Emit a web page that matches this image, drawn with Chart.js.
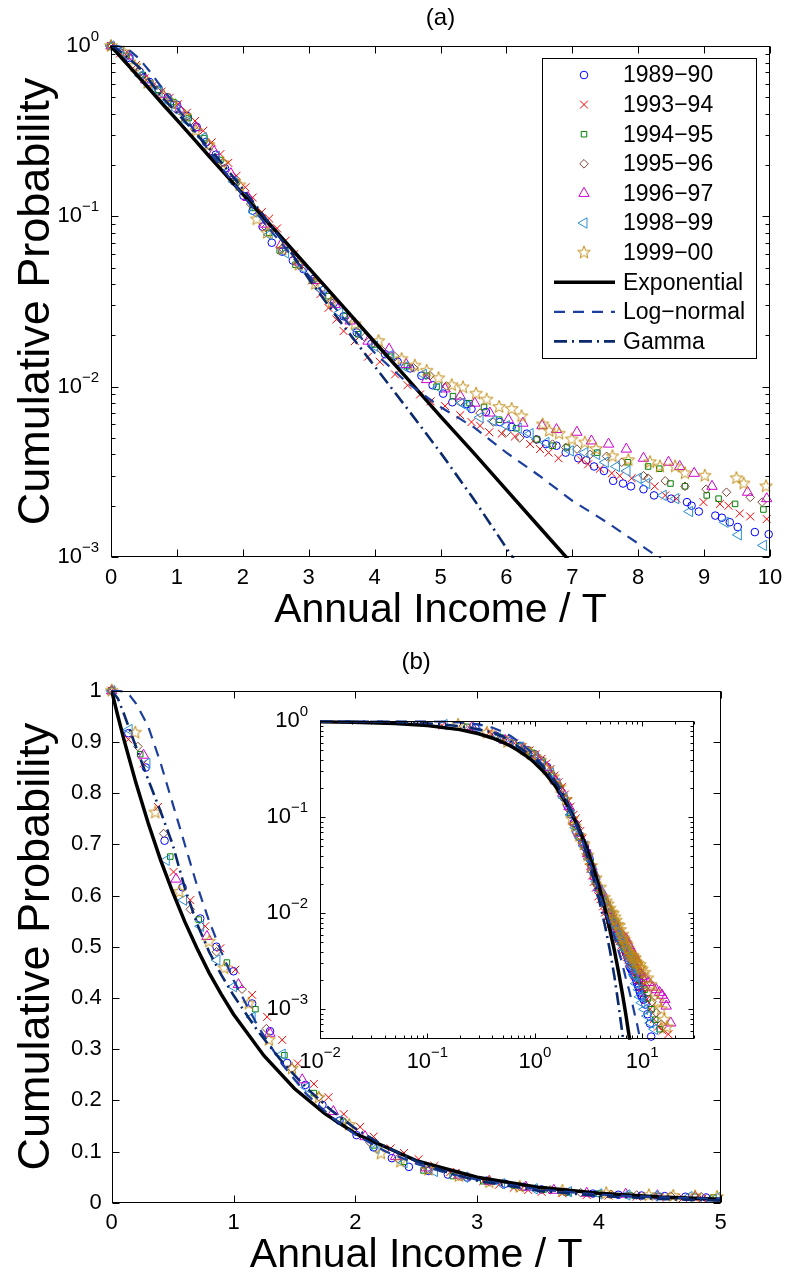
<!DOCTYPE html>
<html lang="en">
<head>
<meta charset="UTF-8">
<title>Annual income – cumulative probability</title>
<script src="https://cdn.jsdelivr.net/npm/chart.js@4.4.1/dist/chart.umd.min.js"></script>
<style>
  html, body { margin: 0; padding: 0; background: #fff; }
  #page { position: relative; width: 786px; height: 1279px; overflow: hidden; }
  #page canvas { position: absolute; }
</style>
</head>
<body>
<div id="page">
  <canvas id="panelA" width="786" height="640" style="left:0;top:0;"></canvas>
  <canvas id="panelB" width="786" height="639" style="left:0;top:640px;"></canvas>
  <canvas id="panelInset" width="470" height="380" style="left:250px;top:700px;"></canvas>
</div>
<script>
// [annual income / T, cumulative probability] for each survey year
const yr8990 = [[0,1],[0.137,0.917],[0.28,0.85],[0.434,0.707],[0.582,0.616],[0.727,0.555],[0.86,0.5],[1.0,0.452],[1.153,0.389],[1.3,0.335],[1.44,0.273],[1.59,0.23],[1.73,0.191],[1.87,0.16],[2.01,0.132],[2.15,0.108],[2.3,0.087],[2.44,0.07],[2.6,0.062],[2.76,0.055],[2.92,0.049],[3.08,0.043],[3.23,0.037],[3.38,0.031],[3.53,0.0259],[3.73,0.0208],[3.95,0.0178],[4.16,0.0155],[4.35,0.014],[4.54,0.0128],[4.71,0.0116],[4.88,0.0102],[5.04,0.0091],[5.18,0.0081],[5.4,0.0079],[5.47,0.0074],[5.69,0.0071],[5.9,0.0062],[6.08,0.0058],[6.31,0.0053],[6.46,0.0049],[6.6,0.0046],[6.76,0.0045],[6.9,0.0041],[7.09,0.0038],[7.21,0.0037],[7.33,0.0034],[7.48,0.0032],[7.62,0.0028],[7.77,0.0027],[7.89,0.0026],[8.08,0.0025],[8.24,0.0023],[8.5,0.0022],[8.74,0.0021],[8.81,0.002],[8.92,0.00185],[9.17,0.00175],[9.27,0.0017],[9.39,0.0016],[9.51,0.0015],[9.77,0.0014],[9.98,0.00136],[10.3,0.00126],[10.7,0.00112],[11.2,0.00089],[11.8,0.00071],[12.1,0.00052]];
const yr9394 = [[0,1],[0.137,0.905],[0.261,0.858],[0.38,0.773],[0.508,0.646],[0.645,0.591],[0.768,0.54],[0.892,0.497],[1.015,0.455],[1.153,0.406],[1.276,0.363],[1.4,0.318],[1.528,0.272],[1.66,0.232],[1.78,0.206],[1.905,0.173],[2.04,0.148],[2.15,0.129],[2.29,0.106],[2.4,0.097],[2.52,0.085],[2.65,0.072],[2.78,0.06],[2.9,0.051],[3.05,0.042],[3.18,0.035],[3.3,0.029],[3.42,0.0248],[3.53,0.0212],[3.7,0.0185],[3.9,0.015],[4.08,0.014],[4.31,0.0118],[4.5,0.0102],[4.69,0.009],[4.85,0.0082],[5.07,0.0077],[5.3,0.0068],[5.47,0.0062],[5.6,0.0059],[5.74,0.0054],[5.93,0.0053],[6.13,0.0051],[6.36,0.0046],[6.51,0.0043],[6.64,0.0041],[6.79,0.0038],[7.14,0.0037],[7.24,0.0035],[7.42,0.0033],[7.6,0.0031],[7.72,0.003],[7.9,0.0029],[8.25,0.0026],[8.41,0.0023],[8.58,0.0022],[8.99,0.0021],[9.24,0.00205],[9.37,0.002],[9.54,0.0018],[9.7,0.00173],[9.95,0.00167],[10.4,0.00148],[11,0.00126],[11.8,0.001],[12.8,0.00079],[14,0.00066],[15.5,0.0006],[17.5,0.00055]];
const yr9495 = [[0,1],[0.234,0.876],[0.481,0.676],[0.714,0.553],[0.946,0.469],[1.18,0.378],[1.418,0.288],[1.66,0.214],[1.9,0.158],[2.15,0.112],[2.4,0.08],[2.56,0.063],[2.8,0.052],[3.05,0.042],[3.3,0.034],[3.55,0.026],[3.75,0.0203],[4.0,0.0177],[4.25,0.015],[4.49,0.0132],[4.79,0.0116],[4.94,0.01],[5.19,0.0088],[5.44,0.008],[5.66,0.0076],[5.89,0.0064],[6.15,0.0057],[6.46,0.0049],[6.7,0.0045],[6.92,0.0044],[7.38,0.0041],[7.84,0.0036],[8.15,0.0034],[8.32,0.0033],[8.49,0.0027],[8.71,0.0026],[9.04,0.0023],[9.22,0.0022],[9.47,0.00205],[9.9,0.0019],[10.5,0.0016],[11.3,0.0013],[12.2,0.001],[13.2,0.00078],[14.5,0.00062]];
const yr9596 = [[0,1],[0.215,0.891],[0.426,0.721],[0.645,0.573],[0.86,0.49],[1.07,0.417],[1.27,0.34],[1.48,0.262],[1.7,0.207],[1.905,0.158],[2.12,0.118],[2.35,0.086],[2.6,0.065],[2.85,0.052],[3.1,0.041],[3.35,0.032],[3.6,0.025],[3.85,0.0195],[4.1,0.0165],[4.31,0.015],[4.59,0.0129],[4.84,0.0116],[5.09,0.0101],[5.3,0.0082],[5.6,0.007],[5.8,0.0062],[6.0,0.0054],[6.2,0.005],[6.45,0.0049],[6.7,0.0046],[6.9,0.0044],[7.07,0.0043],[7.27,0.004],[7.52,0.0039],[7.75,0.0036],[8.08,0.003],[8.15,0.0029],[8.41,0.0028],[8.71,0.0026],[9.03,0.0025],[9.34,0.0024],[9.7,0.00224],[9.88,0.0021],[10.5,0.0018],[11.3,0.0015],[12.3,0.0012],[13.5,0.00092],[15,0.0007]];
const yr9697 = [[0,1],[0.261,0.874],[0.528,0.632],[0.782,0.52],[1.04,0.426],[1.298,0.331],[1.564,0.24],[1.82,0.178],[2.08,0.129],[2.33,0.09],[2.58,0.068],[2.85,0.054],[3.1,0.042],[3.4,0.0304],[3.63,0.0243],[3.9,0.0185],[4.22,0.0166],[4.48,0.0135],[4.79,0.011],[5.07,0.0097],[5.3,0.0088],[5.52,0.008],[5.75,0.007],[6.03,0.0064],[6.25,0.0061],[6.54,0.0059],[6.76,0.0056],[7.07,0.0054],[7.29,0.0048],[7.55,0.0046],[7.82,0.0043],[8.08,0.0038],[8.46,0.0036],[8.63,0.0034],[8.85,0.0031],[9.12,0.0026],[9.66,0.0024],[9.95,0.0022],[10.6,0.0021],[11.5,0.0019],[12.5,0.0017],[13.5,0.0016],[14.5,0.0015],[15.3,0.0014],[16.2,0.00127],[16.7,0.00108],[18.4,0.00072]];
const yr9899 = [[0,1],[0.143,0.924],[0.289,0.858],[0.448,0.669],[0.59,0.591],[0.73,0.54],[0.864,0.474],[1.0,0.422],[1.153,0.362],[1.4,0.29],[1.6,0.225],[1.865,0.16],[2.17,0.106],[2.4,0.078],[2.65,0.061],[2.9,0.05],[3.2,0.037],[3.47,0.0272],[3.75,0.0215],[4.0,0.0173],[4.23,0.0152],[4.46,0.0131],[4.74,0.0118],[4.97,0.0099],[5.32,0.008],[5.4,0.0077],[5.6,0.0066],[5.8,0.0063],[6.0,0.0059],[6.18,0.0057],[6.36,0.0053],[6.6,0.0047],[6.97,0.0042],[7.19,0.0041],[7.37,0.004],[7.5,0.0036],[7.67,0.0034],[7.83,0.0032],[8.0,0.0029],[8.13,0.0027],[8.38,0.0023],[8.57,0.0022],[8.78,0.00185],[9.32,0.0016],[9.52,0.00135],[9.9,0.00117],[10.5,0.001],[11.2,0.00085],[12,0.00072],[13,0.00062]];
const yr9900 = [[0,1],[0.193,0.918],[0.358,0.762],[0.555,0.607],[0.8,0.51],[0.924,0.458],[1.125,0.389],[1.29,0.318],[1.48,0.262],[1.7,0.205],[1.95,0.152],[2.21,0.096],[2.37,0.08],[2.6,0.064],[2.85,0.052],[3.1,0.04],[3.35,0.0311],[3.7,0.0232],[4.06,0.0185],[4.41,0.0145],[4.61,0.0133],[4.79,0.0124],[4.97,0.0112],[5.17,0.0102],[5.34,0.0099],[5.54,0.0091],[5.7,0.0084],[5.89,0.0076],[6.08,0.0074],[6.23,0.0067],[6.55,0.006],[6.65,0.0055],[6.8,0.0053],[6.99,0.0049],[7.19,0.0047],[7.36,0.0043],[7.61,0.0039],[7.85,0.0037],[8.18,0.0036],[8.33,0.0034],[8.56,0.0034],[8.71,0.0031],[9.01,0.003],[9.49,0.0029],[9.6,0.0027],[9.94,0.0026],[10.5,0.0024],[11.2,0.0021],[12,0.0018],[13,0.0015],[14,0.0012],[15,0.001],[16,0.00078],[17,0.00065]];

// fitted curves
const expFit = [[0,1],[0.01,0.99],[0.02,0.98],[0.05,0.951],[0.1,0.905],[0.2,0.819],[0.3,0.741],[0.4,0.67],[0.5,0.607],[0.6,0.549],[0.7,0.497],[0.8,0.449],[0.9,0.407],[1,0.368],[1.25,0.287],[1.5,0.223],[1.75,0.174],[2,0.135],[2.5,0.082],[3,0.0498],[3.5,0.0302],[4,0.0183],[4.5,0.0111],[5,0.0067],[5.5,0.0041],[6,0.00248],[6.5,0.0015],[7,0.00091],[7.5,0.00055],[8,0.00034]];
const lognormFit = [[0,1],[0.01,1],[0.05,1],[0.1,0.998],[0.15,0.99],[0.2,0.975],[0.3,0.93],[0.4,0.86],[0.5,0.78],[0.6,0.7],[0.7,0.62],[0.8,0.55],[0.9,0.49],[1,0.435],[1.2,0.345],[1.4,0.27],[1.6,0.212],[1.8,0.168],[2,0.133],[2.25,0.1],[2.5,0.076],[2.75,0.058],[3,0.045],[3.5,0.026],[4,0.0158],[4.5,0.0105],[5,0.0076],[5.5,0.0058],[6,0.0041],[6.5,0.003],[7,0.00214],[7.5,0.00162],[8,0.0012],[8.5,0.00089],[9,0.00068],[9.5,0.0005],[10,0.00038]];
const gammaFit = [[0,1],[0.01,0.997],[0.02,0.994],[0.05,0.985],[0.1,0.955],[0.2,0.89],[0.3,0.826],[0.4,0.765],[0.5,0.7],[0.6,0.615],[0.7,0.545],[0.8,0.49],[0.9,0.445],[1,0.405],[1.2,0.335],[1.4,0.275],[1.6,0.224],[1.8,0.181],[2,0.145],[2.25,0.109],[2.5,0.081],[2.75,0.06],[3,0.043],[3.5,0.0235],[4,0.0132],[4.5,0.0074],[5,0.0041],[5.5,0.0022],[6,0.00113],[6.5,0.00058],[7,0.0003]];

const seasons = ['1989\u221290', '1993\u221294', '1994\u221295', '1995\u221296', '1996\u221297', '1998\u221299', '1999\u221200'];
const fitNames = ['Exponential', 'Log\u2212normal', 'Gamma'];

// tick values and labels
const aIncomeTicks = [0, 1, 2, 3, 4, 5, 6, 7, 8, 9, 10];
const aProbTicks = [0.001, 0.01, 0.1, 1];
const aProbExps = ['\u22123', '\u22122', '\u22121', '0'];
const bIncomeTicks = [0, 1, 2, 3, 4, 5];
const bProbTicks = [0, 0.1, 0.2, 0.3, 0.4, 0.5, 0.6, 0.7, 0.8, 0.9, 1];
const bProbLabels = ['0', '0.1', '0.2', '0.3', '0.4', '0.5', '0.6', '0.7', '0.8', '0.9', '1'];
const insetIncomeTicks = [0.01, 0.1, 1, 10];
const insetIncomeExps = ['\u22122', '\u22121', '0', '1'];
const insetProbTicks = [0.001, 0.01, 0.1, 1];
const insetProbExps = ['\u22123', '\u22122', '\u22121', '0'];

const FONT = '"Liberation Sans", Arial, Helvetica, sans-serif';

function pentagram(color, r) {
  const c = document.createElement('canvas');
  const s = Math.ceil(2 * r + 4);
  c.width = c.height = s;
  const g = c.getContext('2d');
  g.strokeStyle = color;
  g.lineWidth = 1;
  g.beginPath();
  for (let i = 0; i < 10; i++) {
    const rr = i % 2 ? r * 0.42 : r;
    const t = -Math.PI / 2 + i * Math.PI / 5;
    g.lineTo(s / 2 + rr * Math.cos(t), s / 2 + rr * Math.sin(t));
  }
  g.closePath();
  g.stroke();
  return c;
}

const yearSeries = [yr8990, yr9394, yr9495, yr9596, yr9697, yr9899, yr9900];
const markers = [
  { style: 'circle', color: '#0000ff', radius: 3.8, rotation: 0 },
  { style: 'crossRot', color: '#ff0000', radius: 5.6, rotation: 0 },
  { style: 'rect', color: '#008000', radius: 3.9, rotation: 0 },
  { style: 'rectRot', color: '#7a4536', radius: 4.3, rotation: 0 },
  { style: 'triangle', color: '#cc00cc', radius: 6, rotation: 0 },
  { style: 'triangle', color: '#2a8fd6', radius: 6, rotation: -90 },
  { style: pentagram('#c08a10', 6.6), color: '#c08a10', radius: 6.6, rotation: 0 }
];
const fits = [
  { points: expFit, color: '#000000', width: 3.5, dash: [] },
  { points: lognormFit, color: '#1c3f9e', width: 2.2, dash: [11, 8] },
  { points: gammaFit, color: '#0b2a6e', width: 2.6, dash: [13, 5, 2, 5] }
];

function buildDatasets(xr, yr) {
  const inside = ([x, p]) => x >= xr[0] && x <= xr[1] && p >= yr[0] && p <= yr[1];
  const sets = yearSeries.map((pts, i) => ({
    label: seasons[i],
    data: pts.filter(inside).map(([x, p]) => ({ x, y: p })),
    showLine: false,
    pointStyle: markers[i].style,
    pointRadius: markers[i].radius,
    pointRotation: markers[i].rotation,
    pointBorderColor: markers[i].color,
    pointBackgroundColor: 'rgba(0,0,0,0)',
    pointBorderWidth: 1,
    borderColor: markers[i].color,
    order: 10 - i,
    clip: false
  }));
  fits.forEach((f, j) => sets.push({
    label: fitNames[j],
    data: f.points.filter(([x]) => x >= xr[0] && x <= xr[1]).map(([x, p]) => ({ x, y: p })),
    showLine: true,
    pointRadius: 0,
    borderColor: f.color,
    borderWidth: f.width,
    borderDash: f.dash,
    order: 2 - j,
    clip: 1
  }));
  return sets;
}

function logMinor(lo, hi) {
  const out = [];
  for (let d = Math.floor(Math.log10(lo)); d <= Math.ceil(Math.log10(hi)); d++) {
    for (let k = 2; k <= 9; k++) {
      const v = k * Math.pow(10, d);
      if (v > lo && v < hi) out.push(v);
    }
  }
  return out;
}

function powerLabel(ctx, exp, x, y, align, size, supSize) {
  ctx.font = size + 'px ' + FONT;
  const wBase = ctx.measureText('10').width;
  ctx.font = supSize + 'px ' + FONT;
  const wExp = ctx.measureText(exp).width;
  const left = align === 'right' ? x - wBase - wExp : x - (wBase + wExp) / 2;
  ctx.textAlign = 'left';
  ctx.textBaseline = 'middle';
  ctx.font = size + 'px ' + FONT;
  ctx.fillText('10', left, y);
  ctx.font = supSize + 'px ' + FONT;
  ctx.fillText(exp, left + wBase, y - size * 0.42);
}

// box, inward ticks, tick labels and axis titles
function makeDecor(cfg) {
  return {
    id: 'decor',
    beforeDatasetsDraw(chart) {
      if (!cfg.background) return;
      const { ctx, chartArea: a } = chart;
      ctx.save();
      ctx.fillStyle = cfg.background;
      ctx.fillRect(a.left, a.top, a.width, a.height);
      ctx.restore();
    },
    afterDatasetsDraw(chart) {
      const { ctx, chartArea: a, scales } = chart;
      const xs = scales.x, ys = scales.y;
      const L = Math.round(a.left) + 0.5, R = Math.round(a.right) - 0.5;
      const T = Math.round(a.top) + 0.5, B = Math.round(a.bottom) - 0.5;
      ctx.save();
      ctx.strokeStyle = '#000';
      ctx.lineWidth = 1;
      ctx.beginPath();
      const xTick = (v, len) => {
        const p = Math.round(xs.getPixelForValue(v)) + 0.5;
        ctx.moveTo(p, B); ctx.lineTo(p, B - len);
        ctx.moveTo(p, T); ctx.lineTo(p, T + len);
      };
      const yTick = (v, len) => {
        const p = Math.round(ys.getPixelForValue(v)) + 0.5;
        ctx.moveTo(L, p); ctx.lineTo(L + len, p);
        ctx.moveTo(R, p); ctx.lineTo(R - len, p);
      };
      cfg.xTicks.forEach(v => xTick(v, cfg.tickLen));
      (cfg.xMinor || []).forEach(v => xTick(v, cfg.minorLen));
      cfg.yTicks.forEach(v => yTick(v, cfg.tickLen));
      (cfg.yMinor || []).forEach(v => yTick(v, cfg.minorLen));
      ctx.stroke();
      ctx.strokeRect(L, T, R - L, B - T);

      ctx.fillStyle = '#000';
      cfg.xTicks.forEach((v, i) => {
        const px = xs.getPixelForValue(v), py = a.bottom + cfg.xLabelGap;
        if (cfg.xExps) {
          powerLabel(ctx, cfg.xExps[i], px, py, 'center', cfg.tickFont, cfg.supFont);
        } else {
          ctx.font = cfg.tickFont + 'px ' + FONT;
          ctx.textAlign = 'center';
          ctx.textBaseline = 'middle';
          ctx.fillText(cfg.xLabels[i], px, py);
        }
      });
      cfg.yTicks.forEach((v, i) => {
        const py = ys.getPixelForValue(v), px = a.left - cfg.yLabelGap;
        if (cfg.yExps) {
          powerLabel(ctx, cfg.yExps[i], px, py, 'right', cfg.tickFont, cfg.supFont);
        } else {
          ctx.font = cfg.tickFont + 'px ' + FONT;
          ctx.textAlign = 'right';
          ctx.textBaseline = 'middle';
          ctx.fillText(cfg.yLabels[i], px, py);
        }
      });

      ctx.textAlign = 'center';
      ctx.textBaseline = 'middle';
      const midX = (a.left + a.right) / 2;
      if (cfg.title) {
        ctx.font = cfg.title.size + 'px ' + FONT;
        ctx.fillText(cfg.title.text, midX, a.top - cfg.title.gap);
      }
      if (cfg.xTitle) {
        ctx.font = cfg.xTitle.size + 'px ' + FONT;
        ctx.fillText(cfg.xTitle.text, midX, a.bottom + cfg.xTitle.gap);
      }
      if (cfg.yTitle) {
        ctx.save();
        ctx.translate(cfg.yTitle.x, (a.top + a.bottom) / 2);
        ctx.rotate(-Math.PI / 2);
        ctx.font = cfg.yTitle.size + 'px ' + FONT;
        ctx.fillText(cfg.yTitle.text, 0, 0);
        ctx.restore();
      }
      ctx.restore();
    }
  };
}

function makeKey(cfg) {
  return {
    id: 'key',
    afterDraw(chart) {
      const ctx = chart.ctx;
      ctx.save();
      ctx.fillStyle = '#fff';
      ctx.fillRect(cfg.left, cfg.top, cfg.width, cfg.height);
      ctx.strokeStyle = '#000';
      ctx.lineWidth = 1;
      ctx.strokeRect(cfg.left + 0.5, cfg.top + 0.5, cfg.width, cfg.height);
      chart.data.datasets.forEach((ds, i) => {
        const y = cfg.firstRow + i * cfg.rowStep;
        if (ds.showLine) {
          ctx.save();
          ctx.strokeStyle = ds.borderColor;
          ctx.lineWidth = ds.borderWidth;
          ctx.setLineDash(ds.borderDash || []);
          ctx.beginPath();
          ctx.moveTo(cfg.lineFrom, y);
          ctx.lineTo(cfg.lineTo, y);
          ctx.stroke();
          ctx.restore();
        } else {
          ctx.save();
          ctx.strokeStyle = ds.pointBorderColor;
          ctx.fillStyle = 'rgba(0,0,0,0)';
          ctx.lineWidth = 1;
          Chart.helpers.drawPoint(ctx, {
            pointStyle: ds.pointStyle, radius: ds.pointRadius,
            rotation: ds.pointRotation, borderWidth: 1
          }, cfg.markX, y);
          ctx.restore();
        }
        ctx.fillStyle = '#000';
        ctx.font = cfg.size + 'px ' + FONT;
        ctx.textAlign = 'left';
        ctx.textBaseline = 'middle';
        ctx.fillText(ds.label, cfg.textX, y + 1);
      });
      ctx.restore();
    }
  };
}

const common = {
  responsive: false,
  animation: false,
  events: [],
  plugins: { legend: { display: false }, tooltip: { enabled: false } }
};

// (a) semi-log
new Chart(document.getElementById('panelA'), {
  type: 'scatter',
  data: { datasets: buildDatasets([0, 10], [0.001, 1]) },
  options: {
    ...common,
    layout: { padding: { left: 111, top: 46, right: 16, bottom: 83 } },
    scales: {
      x: { type: 'linear', min: 0, max: 10, display: false },
      y: { type: 'logarithmic', min: 0.001, max: 1, display: false }
    }
  },
  plugins: [
    makeDecor({
      xTicks: aIncomeTicks, xLabels: aIncomeTicks.map(String),
      yTicks: aProbTicks, yExps: aProbExps, yMinor: logMinor(0.001, 1),
      tickLen: 7, minorLen: 4, tickFont: 22, supFont: 15,
      xLabelGap: 21, yLabelGap: 12,
      title: { text: '(a)', size: 24, gap: 28 },
      xTitle: { text: 'Annual Income / T', size: 41, gap: 54 },
      yTitle: { text: 'Cumulative Probability', size: 45, x: 37 }
    }),
    makeKey({
      left: 542, top: 58, width: 214, height: 300,
      firstRow: 75, rowStep: 29.6, markX: 584, lineFrom: 554, lineTo: 615,
      textX: 623, size: 23
    })
  ]
});

// (b) linear
new Chart(document.getElementById('panelB'), {
  type: 'scatter',
  data: { datasets: buildDatasets([0, 5], [0, 1]) },
  options: {
    ...common,
    layout: { padding: { left: 111.7, top: 50.7, right: 65.3, bottom: 76.3 } },
    scales: {
      x: { type: 'linear', min: 0, max: 5, display: false },
      y: { type: 'linear', min: 0, max: 1, display: false }
    }
  },
  plugins: [
    makeDecor({
      xTicks: bIncomeTicks, xLabels: bIncomeTicks.map(String),
      yTicks: bProbTicks, yLabels: bProbLabels,
      tickLen: 7, minorLen: 4, tickFont: 22, supFont: 15,
      xLabelGap: 20, yLabelGap: 10,
      title: { text: '(b)', size: 24, gap: 28 },
      xTitle: { text: 'Annual Income / T', size: 41, gap: 53 },
      yTitle: { text: 'Cumulative Probability', size: 45, x: 37 }
    })
  ]
});

// inset: log-log
new Chart(document.getElementById('panelInset'), {
  type: 'scatter',
  data: { datasets: buildDatasets([0.01, 30.5], [0.000494, 1]) },
  options: {
    ...common,
    layout: { padding: { left: 70, top: 21.3, right: 25.7, bottom: 41.3 } },
    scales: {
      x: { type: 'logarithmic', min: 0.01, max: 30.5, display: false },
      y: { type: 'logarithmic', min: 0.000494, max: 1, display: false }
    }
  },
  plugins: [
    makeDecor({
      background: '#fff',
      xTicks: insetIncomeTicks, xExps: insetIncomeExps, xMinor: logMinor(0.01, 30.5),
      yTicks: insetProbTicks, yExps: insetProbExps, yMinor: logMinor(0.000494, 1),
      tickLen: 5, minorLen: 3, tickFont: 22, supFont: 15,
      xLabelGap: 23, yLabelGap: 12
    })
  ]
});
</script>
</body>
</html>
